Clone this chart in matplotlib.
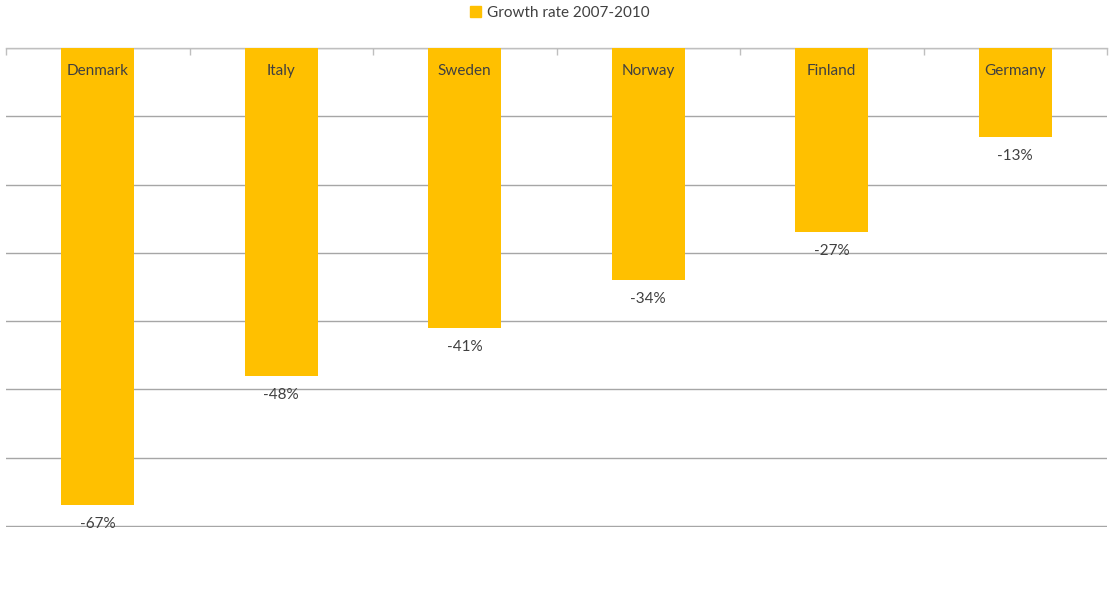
import matplotlib
matplotlib.use("Agg")
import matplotlib.pyplot as plt
from matplotlib.patches import Patch

countries = ["Denmark", "Italy", "Sweden", "Norway", "Finland", "Germany"]
growth = [-67, -48, -41, -34, -27, -13]
series_name = "Growth rate 2007-2010"

plt.rcParams['font.family'] = ['Lato', 'DejaVu Sans']
W, H = 1110, 594
fig = plt.figure(figsize=(W/100, H/100), dpi=100)
ax = fig.add_axes([6/W, 1-527/H, (1107-6)/W, (527-48)/H])

bar_color = '#FFC000'
x = list(range(len(countries)))
ax.bar(x, growth, width=0.4, color=bar_color, zorder=3)

ax.set_xlim(-0.5, len(countries)-0.5)
ax.set_ylim(-70.15, 0)
ax.set_yticks(range(-70, 1, 10))
ax.yaxis.grid(True, color='#A6A6A6', linewidth=1.0, zorder=0)
ax.tick_params(axis='y', left=False, labelleft=False)

for s in ['left', 'right', 'bottom']:
    ax.spines[s].set_visible(False)
ax.spines['top'].set_color('#BFBFBF')
ax.spines['top'].set_linewidth(1.0)

ax.xaxis.set_ticks_position('top')
ax.set_xticks([i - 0.5 for i in range(len(countries)+1)])
ax.set_xticklabels([])
ax.tick_params(axis='x', direction='in', length=5, color='#BFBFBF', width=1.0)

for xi, c, v in zip(x, countries, growth):
    ax.annotate(c, (xi, 0), xytext=(0, -23), textcoords='offset pixels',
                ha='center', va='center', fontsize=11, color='#404040', zorder=4)
    ax.annotate(f"{v}%", (xi, v), xytext=(0, -19), textcoords='offset pixels',
                ha='center', va='center', fontsize=11, color='#404040', zorder=4)

fig.legend(handles=[Patch(color=bar_color)], labels=[series_name],
           loc='center', bbox_to_anchor=(560/W, 1-13/H), frameon=False,
           fontsize=11, handlelength=0.7, handleheight=0.7, handletextpad=0.4,
           labelcolor='#404040')

fig.savefig("out.png", dpi=100)
